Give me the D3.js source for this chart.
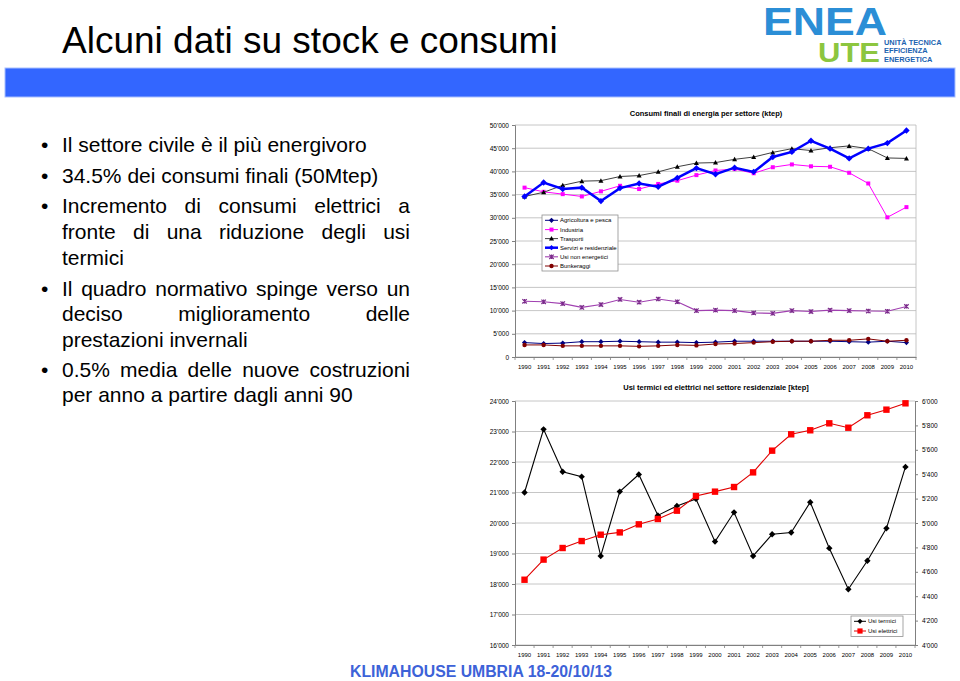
<!DOCTYPE html>
<html><head><meta charset="utf-8">
<script src="https://cdn.jsdelivr.net/npm/d3@7/dist/d3.min.js"></script>
<style>body{margin:0;background:#fff}svg{display:block}text{font-family:"Liberation Sans",Arial,sans-serif}</style>
</head><body><svg id="c" width="960" height="681"></svg>
<script>
// ---------- DATA ----------
const years = ["1990","1991","1992","1993","1994","1995","1996","1997","1998","1999","2000","2001","2002","2003","2004","2005","2006","2007","2008","2009","2010"];
const seriesNames = ["Agricoltura e pesca","Industria","Trasporti","Servizi e residenziale","Usi non energetici","Bunkeraggi"];
const agricoltura = [3100,2900,3000,3300,3300,3400,3300,3200,3200,3100,3200,3400,3400,3400,3400,3400,3400,3300,3200,3400,3100];
const industria = [36500,35600,35100,34600,35700,36900,36200,37300,38000,39200,40200,40500,39600,40900,41500,41100,41000,39700,37400,30100,32300];
const trasporti = [34600,35500,37000,37900,38000,38900,39100,39900,41000,41800,41900,42600,43100,44100,44900,44500,45100,45500,44900,42900,42800];
const servizi = [34600,37600,36200,36500,33600,36400,37400,36700,38600,40700,39400,40800,39900,43100,44200,46600,44900,42800,44900,46100,48800];
const nonEnergetici = [12000,11900,11500,10700,11300,12400,11800,12500,11900,10000,10100,10000,9500,9400,10000,9800,10100,10000,9900,9850,10900];
const bunkeraggi = [2600,2600,2400,2400,2400,2400,2300,2400,2600,2500,2800,2900,3100,3300,3400,3400,3600,3600,3900,3400,3600];
const topTicks = [0,5000,10000,15000,20000,25000,30000,35000,40000,45000,50000];

const usiTermici = [21000,23070,21680,21520,18920,21030,21590,20250,20560,20790,19390,20350,18920,19630,19690,20680,19175,17830,18760,19825,21840];
const usiElettrici = [4535,4700,4795,4852,4904,4923,4989,5033,5101,5221,5257,5295,5415,5593,5727,5760,5817,5781,5883,5929,5981];
const leftTicks = [16000,17000,18000,19000,20000,21000,22000,23000,24000];
const rightTicks = [4000,4200,4400,4600,4800,5000,5200,5400,5600,5800,6000];

const titleText = "Alcuni dati su stock e consumi";
const topTitle = "Consumi finali di energia per settore (ktep)";
const bottomTitle = "Usi termici ed elettrici nel settore residenziale [ktep]";
const footer = "KLIMAHOUSE UMBRIA 18-20/10/13";
const logoSmall = ["UNITÀ TECNICA","EFFICIENZA","ENERGETICA"];
const paragraphs = [
  ["Il settore civile è il più energivoro"],
  ["34.5% dei consumi finali (50Mtep)"],
  ["Incremento di consumi elettrici a","fronte di una riduzione degli usi","termici"],
  ["Il quadro normativo spinge verso un","deciso miglioramento delle","prestazioni invernali"],
  ["0.5% media delle nuove costruzioni","per anno a partire dagli anni 90"]
];

// ---------- SETUP ----------
const svg = d3.select("#c");
const fmt = v => d3.format(",")(v).replace(/,/g,"'");

// Header
svg.append("text").attr("x",62).attr("y",53).attr("font-size",37).attr("fill","#000").text(titleText);
svg.append("rect").attr("x",5).attr("y",68).attr("width",950).attr("height",29)
  .attr("fill","#3366FF").attr("stroke","#a8bfff").attr("stroke-width",1);

// Logo (approximation)
const logo = svg.append("g");
logo.append("text").attr("x",763).attr("y",35).attr("font-size",38).attr("font-weight","bold")
  .attr("fill","#2b8ed6").attr("textLength",124).attr("lengthAdjust","spacingAndGlyphs").text("ENEA");
logo.append("text").attr("x",818).attr("y",62).attr("font-size",27).attr("font-weight","bold")
  .attr("fill","#8cc63f").attr("textLength",62).attr("lengthAdjust","spacingAndGlyphs").text("UTE");
logoSmall.forEach((t,i)=>{
  logo.append("text").attr("x",884).attr("y",45+i*8.4).attr("font-size",7.4).attr("font-weight","bold")
    .attr("fill","#1c63b0").text(t);
});

// Bullets
const baselines = [152,183,213,239,265,296,321,347,377,402];
const textG = svg.append("g").attr("font-size",21).attr("fill","#000");
let li = 0;
const leftX = 62, rightX = 410;
paragraphs.forEach(p=>{
  textG.append("text").attr("x",41).attr("y",baselines[li]).text("•");
  p.forEach((line,k)=>{
    const y = baselines[li];
    const justify = (k < p.length-1);
    if(!justify){
      textG.append("text").attr("x",leftX).attr("y",y).text(line);
    } else {
      const words = line.split(" ");
      const nodes = words.map(w=>textG.append("text").attr("y",y).text(w));
      const widths = nodes.map(n=>n.node().getComputedTextLength());
      const total = d3.sum(widths);
      const gap = (rightX-leftX-total)/(words.length-1);
      let x = leftX;
      nodes.forEach((n,i)=>{ n.attr("x",x); x += widths[i]+gap; });
    }
    li++;
  });
});

// Footer
svg.append("text").attr("x",350).attr("y",677).attr("font-size",16).attr("font-weight","bold")
  .attr("fill","#3d62d8").attr("textLength",262).attr("lengthAdjust","spacingAndGlyphs").text(footer);

// ---------- MARKERS ----------
function marker(g, type, x, y, color, s){
  if(type==="diamond"){
    g.append("path").attr("d",`M${x},${y-s}L${x+s},${y}L${x},${y+s}L${x-s},${y}Z`).attr("fill",color);
  } else if(type==="square"){
    g.append("rect").attr("x",x-s).attr("y",y-s).attr("width",2*s).attr("height",2*s).attr("fill",color);
  } else if(type==="triangle"){
    g.append("path").attr("d",`M${x},${y-s}L${x+s},${y+s*0.8}L${x-s},${y+s*0.8}Z`).attr("fill",color);
  } else if(type==="circle"){
    g.append("circle").attr("cx",x).attr("cy",y).attr("r",s).attr("fill",color);
  } else if(type==="star"){
    g.append("path").attr("d",`M${x-s},${y-s}L${x+s},${y+s}M${x-s},${y+s}L${x+s},${y-s}M${x},${y-s}L${x},${y+s}`)
      .attr("stroke",color).attr("stroke-width",1.2).attr("fill","none");
  }
}

// ---------- TOP CHART ----------
const tL=515, tR=916, tT=125, tB=357;
const xT = d3.scaleBand().domain(years).range([tL,tR]);
const yT = d3.scaleLinear().domain([0,50000]).range([tB,tT]);
const topG = svg.append("g");
topG.selectAll("line.g").data(topTicks).join("line")
  .attr("x1",tL).attr("x2",tR).attr("y1",d=>yT(d)).attr("y2",d=>yT(d)).attr("stroke","#b8b8b8").attr("stroke-width",0.8);
topG.append("line").attr("x1",tR).attr("x2",tR).attr("y1",tT).attr("y2",tB).attr("stroke","#b8b8b8").attr("stroke-width",0.8);
const yAxT = d3.axisLeft(yT).tickValues(topTicks).tickFormat(fmt).tickSize(3).tickPadding(3);
topG.append("g").attr("transform",`translate(${tL},0)`).call(yAxT)
  .call(g=>{g.selectAll("path,line").attr("stroke","#808080");g.selectAll("text").attr("font-size",6.5).attr("font-family","Liberation Sans, Arial").attr("fill","#000");});
const xAxT = d3.axisBottom(xT).tickSize(0).tickPadding(8);
topG.append("g").attr("transform",`translate(0,${tB})`).call(xAxT)
  .call(g=>{g.select("path").attr("stroke","#808080");g.selectAll("text").attr("font-size",6).attr("font-family","Liberation Sans, Arial").attr("fill","#000");});
topG.selectAll("line.xt").data(years.concat(["end"])).join("line")
  .attr("x1",(d,i)=>tL+i*xT.step()).attr("x2",(d,i)=>tL+i*xT.step())
  .attr("y1",tB).attr("y2",tB+3).attr("stroke","#808080").attr("stroke-width",0.8);
topG.append("text").attr("x",706).attr("y",116).attr("text-anchor","middle").attr("font-size",7.5)
  .attr("font-weight","bold").text(topTitle);

const cx = d => xT(d)+xT.bandwidth()/2;
const topSeries = [
  {name:seriesNames[0], data:agricoltura, color:"#000080", mcol:"#000080", w:1, m:"diamond", s:2.6},
  {name:seriesNames[1], data:industria, color:"#ff00ff", mcol:"#ff00ff", w:1, m:"square", s:2},
  {name:seriesNames[2], data:trasporti, color:"#404040", mcol:"#000000", w:1, m:"triangle", s:2.5},
  {name:seriesNames[3], data:servizi, color:"#0000ff", mcol:"#0000ff", w:2.5, m:"diamond", s:3.2},
  {name:seriesNames[4], data:nonEnergetici, color:"#a040b0", mcol:"#7a2a8a", w:1.1, m:"star", s:2.2},
  {name:seriesNames[5], data:bunkeraggi, color:"#800000", mcol:"#800000", w:1, m:"circle", s:2.2}
];
const lineT = d3.line().x((d,i)=>cx(years[i])).y(d=>yT(d));
topSeries.forEach(s=>{
  const g = topG.append("g");
  g.append("path").datum(s.data).attr("d",lineT).attr("fill","none").attr("stroke",s.color).attr("stroke-width",s.w);
  s.data.forEach((v,i)=>marker(g,s.m,cx(years[i]),yT(v),s.mcol,s.s));
});
// legend
const lg = topG.append("g");
lg.append("rect").attr("x",542).attr("y",215).attr("width",76).attr("height",56).attr("fill","#fff").attr("stroke","#909090").attr("stroke-width",0.8);
const legY = [220.3,229.6,238.6,247.7,256.8,266];
topSeries.forEach((s,i)=>{
  lg.append("line").attr("x1",545).attr("x2",558).attr("y1",legY[i]).attr("y2",legY[i]).attr("stroke",s.color).attr("stroke-width",s.w);
  marker(lg,s.m,551.5,legY[i],s.mcol,Math.min(s.s,2.6));
  lg.append("text").attr("x",560).attr("y",legY[i]+2.1).attr("font-size",6).text(s.name);
});

// ---------- BOTTOM CHART ----------
const bL=515, bR=915, bT=401, bB=645;
const xB = d3.scaleBand().domain(years).range([bL,bR]);
const yL = d3.scaleLinear().domain([16000,24000]).range([bB,bT]);
const yR = d3.scaleLinear().domain([4000,6000]).range([bB,bT]);
const bot = svg.append("g");
bot.selectAll("line.g").data(leftTicks).join("line")
  .attr("x1",bL).attr("x2",bR).attr("y1",d=>yL(d)).attr("y2",d=>yL(d)).attr("stroke","#b8b8b8").attr("stroke-width",0.8);
bot.append("g").attr("transform",`translate(${bL},0)`).call(d3.axisLeft(yL).tickValues(leftTicks).tickFormat(fmt).tickSize(3).tickPadding(3))
  .call(g=>{g.selectAll("path,line").attr("stroke","#808080");g.selectAll("text").attr("font-size",6.5).attr("font-family","Liberation Sans, Arial").attr("fill","#000");});
bot.append("g").attr("transform",`translate(${bR},0)`).call(d3.axisRight(yR).tickValues(rightTicks).tickFormat(fmt).tickSize(3).tickPadding(4))
  .call(g=>{g.selectAll("path,line").attr("stroke","#808080");g.selectAll("text").attr("font-size",6.5).attr("font-family","Liberation Sans, Arial").attr("fill","#000");});
bot.append("g").attr("transform",`translate(0,${bB})`).call(d3.axisBottom(xB).tickSize(0).tickPadding(8))
  .call(g=>{g.select("path").attr("stroke","#808080");g.selectAll("text").attr("font-size",6).attr("font-family","Liberation Sans, Arial").attr("fill","#000");});
bot.selectAll("line.xt").data(years.concat(["end"])).join("line")
  .attr("x1",(d,i)=>bL+i*xB.step()).attr("x2",(d,i)=>bL+i*xB.step())
  .attr("y1",bB).attr("y2",bB+3).attr("stroke","#808080").attr("stroke-width",0.8);
bot.append("text").attr("x",716).attr("y",390).attr("text-anchor","middle").attr("font-size",7.5)
  .attr("font-weight","bold").text(bottomTitle);

const cxB = d => xB(d)+xB.bandwidth()/2;
const gT = bot.append("g");
gT.append("path").datum(usiTermici).attr("d",d3.line().x((d,i)=>cxB(years[i])).y(d=>yL(d)))
  .attr("fill","none").attr("stroke","#000").attr("stroke-width",1.1);
usiTermici.forEach((v,i)=>marker(gT,"diamond",cxB(years[i]),yL(v),"#000",3.2));
const gE = bot.append("g");
gE.append("path").datum(usiElettrici).attr("d",d3.line().x((d,i)=>cxB(years[i])).y(d=>yR(d)))
  .attr("fill","none").attr("stroke","#e00000").attr("stroke-width",1.1);
usiElettrici.forEach((v,i)=>marker(gE,"square",cxB(years[i]),yR(v),"#ff0000",3.2));
// legend
const lb = bot.append("g");
lb.append("rect").attr("x",851).attr("y",616).attr("width",52).attr("height",20.5).attr("fill","#fff").attr("stroke","#909090").attr("stroke-width",0.8);
lb.append("line").attr("x1",854).attr("x2",866).attr("y1",621.3).attr("y2",621.3).attr("stroke","#000");
marker(lb,"diamond",860,621.3,"#000",2.6);
lb.append("text").attr("x",868).attr("y",623.4).attr("font-size",6).text("Usi termici");
lb.append("line").attr("x1",854).attr("x2",866).attr("y1",631).attr("y2",631).attr("stroke","#e00000");
marker(lb,"square",860,631,"#ff0000",2.6);
lb.append("text").attr("x",868).attr("y",633.1).attr("font-size",6).text("Usi elettrici");
</script></body></html>
